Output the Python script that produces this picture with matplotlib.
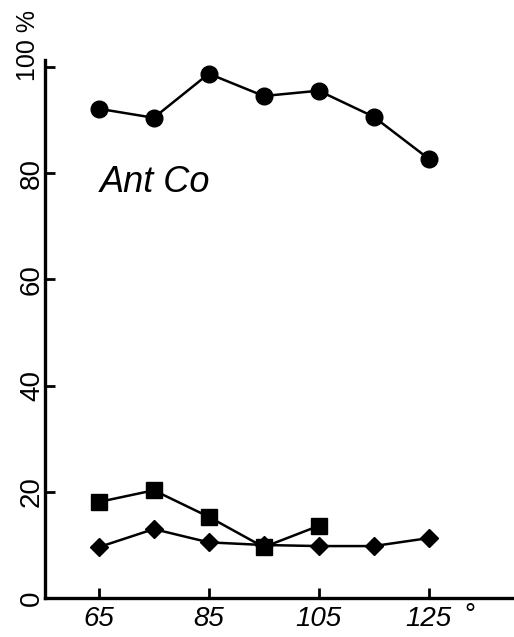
import matplotlib
matplotlib.use("Agg")
import matplotlib.pyplot as plt

temps = [65, 75, 85, 95, 105, 115, 125]
circle_vals = [92.1, 90.4, 98.7, 94.5, 95.5, 90.6, 82.7]
square_temps = [65, 75, 85, 95, 105]
square_vals = [18.1, 20.3, 15.3, 9.6, 13.6]
diamond_vals = [9.6, 13.0, 10.5, 10.0, 9.8, 9.8, 11.3]
xticks = [65, 85, 105, 125]
xticklabels = ["65", "85", "105", "125"]
yticks = [0, 20, 40, 60, 80, 100]
yticklabels = ["0", "20", "40", "60", "80", ""]

plt.rcParams['font.family'] = ['Liberation Sans', 'DejaVu Sans']
fig = plt.figure(figsize=(5.14, 6.37), dpi=100)
ax = fig.add_axes([0.0875, 0.061, 0.91, 0.845])

ax.plot(temps, circle_vals, '-o', color='black', lw=1.8, markersize=12)
ax.plot(square_temps, square_vals, '-s', color='black', lw=1.8, markersize=11)
ax.plot(temps, diamond_vals, '-D', color='black', lw=1.8, markersize=9)

ax.set_xlim(55.2, 140.3)
ax.set_ylim(0, 101.3)
for s in ['top', 'right']:
    ax.spines[s].set_visible(False)
for s in ['left', 'bottom']:
    ax.spines[s].set_linewidth(2.4)

ax.set_xticks(xticks)
ax.set_xticklabels(xticklabels, fontsize=20, style='italic')
ax.set_yticks(yticks)
ax.set_yticklabels(yticklabels, fontsize=20, rotation=90, va='center')
ax.tick_params(axis='both', direction='in', length=7, width=2, pad=6)
ax.tick_params(axis='y', pad=0)

# "100 %" label, drawn as text, shifted up as in the original
ax.text(-0.036, 104.0, "100 %", fontsize=18, rotation=90, ha='center',
        va='center', transform=ax.get_yaxis_transform())
ax.text(132.5, -3.3, "°", fontsize=20, ha='center', va='center')
ax.text(65.2, 78.2, "Ant Co", fontsize=26, style='italic', ha='left', va='center')

fig.savefig("out.png", dpi=100)
